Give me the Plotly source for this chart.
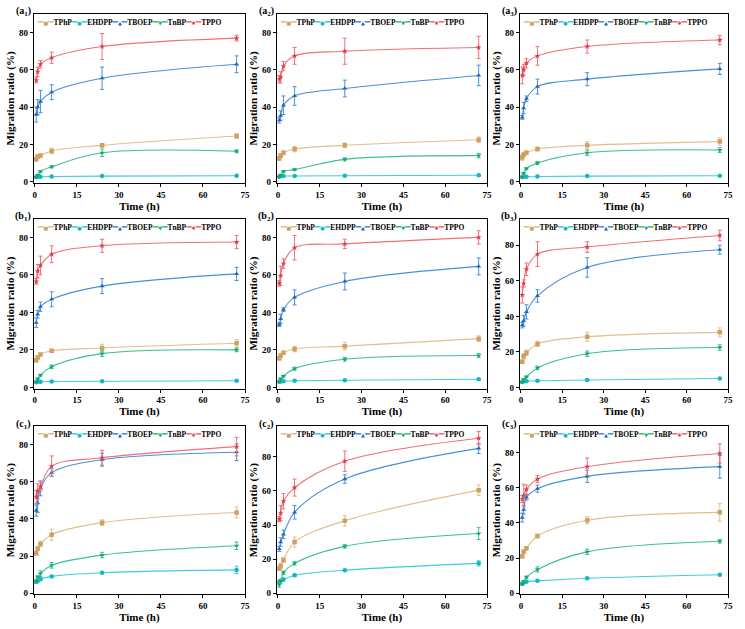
import plotly.graph_objects as go

# ---------------- data ----------------
TIME = [0.5, 1, 2, 6, 24, 72]
COMPOUNDS = ["TPhP", "EHDPP", "TBOEP", "TnBP", "TPPO"]
PANEL_LABELS = ["(a<sub>1</sub>)", "(a<sub>2</sub>)", "(a<sub>3</sub>)",
                "(b<sub>1</sub>)", "(b<sub>2</sub>)", "(b<sub>3</sub>)",
                "(c<sub>1</sub>)", "(c<sub>2</sub>)", "(c<sub>3</sub>)"]
X_TICKS = [0, 15, 30, 45, 60, 75]
Y_TICKS = [0, 20, 40, 60, 80]
Y_MAX = [90, 90, 90, 90, 90, 95, 90, 98, 95]

# values per panel (a1, a2, a3, b1, b2, b3, c1, c2, c3)
TPHP = [
    [12, 13.5, 14, 16.5, 19.5, 24.5],
    [12.5, 14, 15.5, 17.5, 19.5, 22.5],
    [13, 14.5, 15.5, 17.5, 19.5, 21.5],
    [14.5, 16, 17.5, 19.5, 21, 23.5],
    [15.5, 17, 18.5, 20.5, 22, 26],
    [14.5, 17.5, 19.5, 24.5, 28.5, 31],
    [21.5, 24, 26.5, 31.5, 38, 43.5],
    [14.5, 16, 19.5, 30, 42.5, 60.5],
    [21, 23.5, 25.5, 32.5, 41.5, 46],
]
TPHP_ERR = [
    [1, 1, 0.8, 1.5, 1, 1.2],
    [1, 1, 1, 1.5, 1.2, 1.5],
    [1.5, 1.2, 1, 1, 2, 2],
    [1, 1, 0.8, 0.8, 2, 2],
    [1, 1, 0.8, 1.5, 2, 1.5],
    [0.8, 1.5, 1.5, 1.5, 2.5, 2.5],
    [1, 1, 1.5, 3, 1.5, 3],
    [1, 1.5, 1.5, 3, 3, 3],
    [1, 1, 1, 1, 2, 5],
]
EHDPP = [
    [2.5, 2.7, 2.7, 2.8, 3.0, 3.2],
    [2.8, 3, 3, 3.1, 3.2, 3.5],
    [2.5, 2.6, 2.6, 2.8, 3, 3.2],
    [2.8, 3, 3, 3.1, 3.3, 3.5],
    [3, 3.2, 3.3, 3.5, 3.8, 4.3],
    [3, 3.5, 3.5, 3.8, 4.2, 5],
    [6, 6.5, 7.5, 9, 11, 12.5],
    [6.5, 7.5, 8, 10.5, 13.5, 17.5],
    [5.5, 6, 6.5, 7, 8.5, 10.5],
]
EHDPP_ERR = [
    [0.3, 0.3, 0.3, 0.3, 0.3, 0.3],
    [0.3, 0.3, 0.3, 0.3, 0.3, 0.5],
    [0.3, 0.3, 0.3, 0.3, 0.3, 0.3],
    [0.3, 0.3, 0.3, 0.3, 0.3, 0.3],
    [0.3, 0.3, 0.3, 0.3, 0.3, 0.4],
    [0.4, 0.4, 0.4, 0.4, 0.4, 0.4],
    [0.5, 0.5, 0.7, 0.5, 0.5, 2],
    [0.5, 0.5, 0.8, 0.8, 0.5, 1.5],
    [0.5, 0.3, 0.3, 0.5, 0.5, 0.5],
]
TBOEP = [
    [36, 40, 43, 48, 55.5, 63],
    [33, 35.5, 41, 46, 50, 57],
    [34.5, 39.5, 44.5, 51, 55, 60.5],
    [34.5, 39, 43, 47, 54, 60.5],
    [33.5, 36.5, 41.5, 48, 56.5, 64.5],
    [35, 37.5, 42.5, 51.5, 67.5, 77.5],
    [44.5, 48.5, 56.5, 65, 72, 76],
    [26, 30, 34.5, 47.5, 67, 85],
    [43, 47.5, 54.5, 59.5, 66.5, 72],
]
TBOEP_ERR = [
    [4, 4, 6, 4, 6, 4.5],
    [1.5, 2.5, 5, 5, 4.5, 5.5],
    [1, 3, 1.5, 4, 3.5, 3],
    [2.5, 2, 2.5, 4, 4, 3.5],
    [1, 2.5, 1, 4, 4.5, 4.5],
    [1.5, 3, 4, 3.5, 5.5, 2.5],
    [3, 5, 4, 2, 3.5, 4.5],
    [1.5, 2.5, 2.5, 4, 2.5, 3],
    [2.5, 2.5, 1.5, 2, 3.5, 6.5],
]
TNBP = [
    [2.5, 3.5, 5.5, 8, 15.5, 16.3],
    [2.5, 3.5, 5.5, 6.5, 12, 14],
    [2.5, 4.5, 7, 10, 15.5, 17],
    [3, 4.5, 6.5, 11, 18, 20],
    [3, 4.5, 6, 10, 15, 17],
    [3, 4.5, 6, 11, 19, 22.5],
    [6.5, 8.5, 10.5, 15, 20.5, 25.5],
    [5, 7, 12, 17.5, 27.5, 35],
    [5, 6.5, 9, 13.5, 23.5, 29.5],
]
TNBP_ERR = [
    [0.5, 0.5, 0.5, 0.6, 2, 0.8],
    [0.3, 0.5, 0.5, 0.5, 0.8, 1.2],
    [0.5, 0.5, 0.5, 0.8, 1.5, 1.3],
    [0.5, 0.5, 0.5, 1, 1.5, 1],
    [0.5, 0.5, 0.5, 0.8, 1, 1],
    [0.5, 0.5, 0.5, 1, 1.5, 1.5],
    [1, 1, 1.5, 1.5, 1.5, 2],
    [1.5, 1, 1, 1, 1, 3.5],
    [0.5, 0.5, 0.8, 1.5, 1.5, 1],
]
TPPO = [
    [54.5, 59, 63, 66.5, 72.5, 77],
    [55, 56, 62, 67.5, 70, 72],
    [57, 60, 63.5, 67.5, 72.5, 76],
    [56.5, 62, 65, 71, 75.5, 77.5],
    [55.5, 59.5, 66, 74.5, 76.5, 80],
    [52, 58.5, 66.5, 75, 79, 85.5],
    [52, 55, 57.5, 68.5, 73, 79],
    [43.5, 47, 54, 62, 77.5, 91],
    [53.5, 55.5, 59, 65, 72, 79.5],
]
TPPO_ERR = [
    [1.5, 2.5, 2, 3, 7, 1.5],
    [2, 3, 2.5, 4.5, 7, 6],
    [4.5, 3, 2.5, 5, 3.5, 2.5],
    [1.5, 3.5, 5, 4.5, 3.5, 3.5],
    [1.5, 5, 2.5, 6.5, 2.5, 3.5],
    [4.5, 2, 3.5, 7, 3, 3],
    [3.5, 4, 2.5, 5.5, 4, 5],
    [1.5, 4.5, 4.5, 5, 6, 4],
    [2, 6.5, 2.5, 2, 5, 5.5],
]

# ---------------- style ----------------
SERIES = [TPHP, EHDPP, TBOEP, TNBP, TPPO]
SERIES_ERR = [TPHP_ERR, EHDPP_ERR, TBOEP_ERR, TNBP_ERR, TPPO_ERR]
LINE_COLORS = ["#E2BE8C", "#3CCDE0", "#4A90D9", "#3CC08E", "#F07078"]
MARK_COLORS = ["#D0A063", "#15B5CA", "#2268B8", "#14A676", "#E23C48"]
SYMBOLS = ["square", "circle", "triangle-up", "triangle-down", "star"]
GLYPHS = ["■", "●", "▲", "▼", "✱"]

W, H = 745, 629
COL_PX = [(33, 246), (278, 490), (523, 733)]
ROW_PX = [(14, 184), (220, 391), (429, 598)]
FONT = "Liberation Serif"

fig = go.Figure()
layout = dict(
    width=W, height=H,
    margin=dict(l=0, r=0, t=0, b=0),
    paper_bgcolor="white", plot_bgcolor="white",
    font=dict(family=FONT, color="black"),
    showlegend=False,
)
annotations = []

DASH = "<span style='color:{c};font-family:DejaVu Sans;font-size:9px'>━</span>"
legend_txt = "".join(
    DASH.format(c=LINE_COLORS[k])
    + f"<span style='color:{MARK_COLORS[k]};font-family:DejaVu Sans;font-size:5px'>{GLYPHS[k]}</span>"
    + DASH.format(c=LINE_COLORS[k])
    + COMPOUNDS[k]
    for k in range(5)
)

for p in range(9):
    r, c = divmod(p, 3)
    x0, x1 = COL_PX[c]
    y0, y1 = ROW_PX[r]
    xd = [x0 / W, x1 / W]
    yd = [1 - y1 / H, 1 - y0 / H]
    sfx = "" if p == 0 else str(p + 1)
    for k in range(5):
        fig.add_trace(go.Scatter(
            x=TIME, y=SERIES[k][p],
            mode="lines+markers",
            line=dict(color=LINE_COLORS[k], width=1.1, shape="spline", smoothing=1.0),
            marker=dict(symbol=SYMBOLS[k], size=4.5, color=MARK_COLORS[k]),
            error_y=dict(type="data", array=SERIES_ERR[k][p], color=LINE_COLORS[k],
                         thickness=1, width=2),
            xaxis="x" + sfx, yaxis="y" + sfx, name=COMPOUNDS[k],
        ))
    layout["xaxis" + sfx] = dict(
        domain=xd, anchor="y" + sfx, range=[-0.4, 75],
        tickmode="array", tickvals=X_TICKS,
        showline=True, linecolor="black", linewidth=1, mirror=True,
        ticks="outside", ticklen=3, tickcolor="black", showgrid=False, zeroline=False,
        tickfont=dict(size=9, family=FONT, weight="bold"),
        title=dict(text="Time (h)", font=dict(size=11, family=FONT, weight="bold"), standoff=1),
    )
    layout["yaxis" + sfx] = dict(
        domain=yd, anchor="x" + sfx, range=[-0.6, Y_MAX[p]],
        tickmode="array", tickvals=Y_TICKS,
        showline=True, linecolor="black", linewidth=1, mirror=True,
        ticks="outside", ticklen=3, tickcolor="black", showgrid=False, zeroline=False,
        tickfont=dict(size=9, family=FONT, weight="bold"),
        title=dict(text="Migration ratio (%)", font=dict(size=11, family=FONT, weight="bold"), standoff=2),
    )
    annotations.append(dict(
        xref="paper", yref="paper", x=xd[0] - 1 / W, y=yd[1] + 2 / H,
        xanchor="right", yanchor="middle", showarrow=False,
        text="<b>" + PANEL_LABELS[p] + "</b>", font=dict(size=10, family=FONT),
    ))
    annotations.append(dict(
        xref="paper", yref="paper", x=xd[0] + 1 / W, y=yd[1] - 1 / H,
        xanchor="left", yanchor="top", showarrow=False,
        text="<b>" + legend_txt + "</b>", font=dict(size=7.5, family=FONT),
    ))

layout["annotations"] = annotations
fig.update_layout(**layout)
fig.write_html("out.html")
